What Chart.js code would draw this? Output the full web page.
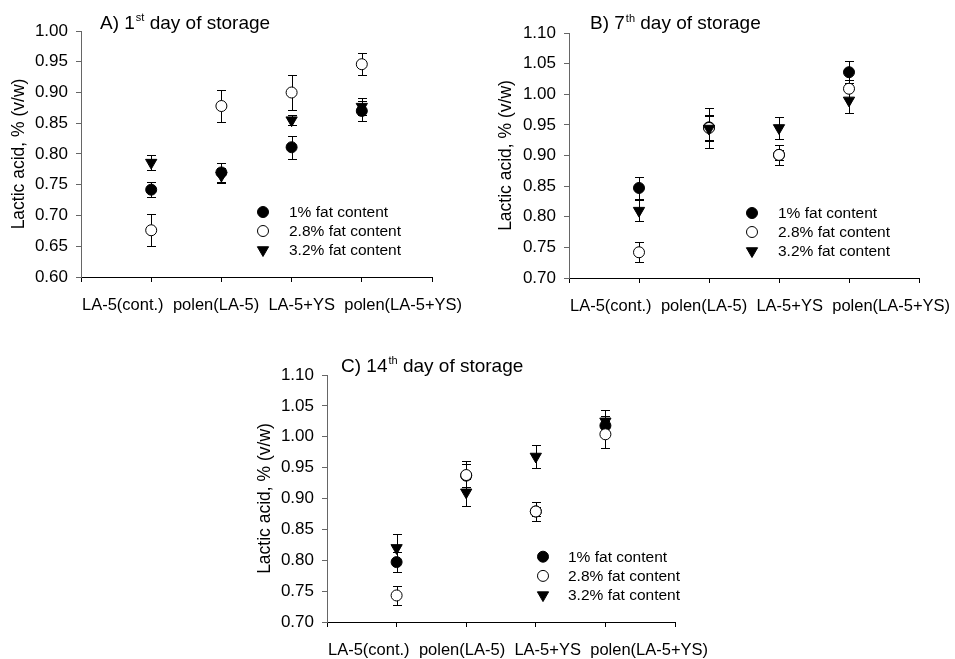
<!DOCTYPE html>
<html>
<head>
<meta charset="utf-8">
<script src="https://cdn.jsdelivr.net/npm/chart.js@4/dist/chart.umd.min.js"></script>
<style>
  body { margin: 0; background: #fff; width: 955px; height: 659px; position: relative; overflow: hidden; }
  canvas { position: absolute; }
</style>
</head>
<body>
<canvas id="chartA" width="470" height="330" style="left:0;top:0"></canvas>
<canvas id="chartB" width="475" height="330" style="left:480px;top:0"></canvas>
<canvas id="chartC" width="480" height="329" style="left:240px;top:330px"></canvas>
<script>
const categories = ["LA-5(cont.)", "polen(LA-5)", "LA-5+YS", "polen(LA-5+YS)"];
const seriesNames = ["1% fat content", "2.8% fat content", "3.2% fat content"];
const yTitle = "Lactic acid, % (v/w)";

// 1st day
const day1Fat1 = [0.742, 0.770, 0.811, 0.870];
const day1Fat1Err = [0.012, 0.016, 0.019, 0.016];
const day1Fat28 = [0.676, 0.878, 0.900, 0.946];
const day1Fat28Err = [0.026, 0.026, 0.029, 0.018];
const day1Fat32 = [0.786, 0.765, 0.855, 0.877];
const day1Fat32Err = [0.012, 0.012, 0.008, 0.014];
const day1Ticks = [0.60, 0.65, 0.70, 0.75, 0.80, 0.85, 0.90, 0.95, 1.00];

// 7th day
const day7Fat1 = [0.847, 0.946, 0.901, 1.036];
const day7Fat1Err = [0.018, 0.020, 0.008, 0.018];
const day7Fat28 = [0.742, 0.945, 0.901, 1.009];
const day7Fat28Err = [0.016, 0.033, 0.016, 0.015];
const day7Fat32 = [0.810, 0.944, 0.945, 0.990];
const day7Fat32Err = [0.017, 0.020, 0.018, 0.021];
const day7Ticks = [0.70, 0.75, 0.80, 0.85, 0.90, 0.95, 1.00, 1.05, 1.10];

// 14th day
const day14Fat1 = [0.797, 0.937, 0.879, 1.018];
const day14Fat1Err = [0.016, 0.019, 0.008, 0.015];
const day14Fat28 = [0.743, 0.938, 0.879, 1.004];
const day14Fat28Err = [0.016, 0.022, 0.016, 0.022];
const day14Fat32 = [0.820, 0.910, 0.968, 1.025];
const day14Fat32Err = [0.022, 0.022, 0.018, 0.018];
const day14Ticks = [0.70, 0.75, 0.80, 0.85, 0.90, 0.95, 1.00, 1.05, 1.10];

const FONT = "'Liberation Sans', Arial, sans-serif";

function drawMarker(ctx, kind, x, y) {
  ctx.save();
  ctx.lineWidth = 1;
  ctx.strokeStyle = "#000";
  ctx.beginPath();
  if (kind === 2) {
    const r = 6.5;
    ctx.moveTo(x - r * 0.866, y - r / 2);
    ctx.lineTo(x + r * 0.866, y - r / 2);
    ctx.lineTo(x, y + r);
    ctx.closePath();
    ctx.fillStyle = "#000";
  } else {
    ctx.arc(x, y, 5.5, 0, Math.PI * 2);
    ctx.fillStyle = kind === 1 ? "#fff" : "#000";
  }
  ctx.fill();
  ctx.stroke();
  ctx.restore();
}

const errorBars = {
  id: "errorBars",
  beforeDatasetsDraw(chart) {
    const { ctx, scales: { x, y } } = chart;
    ctx.save();
    ctx.strokeStyle = "#000";
    ctx.lineWidth = 1;
    chart.data.datasets.forEach(ds => {
      ds.errors.forEach((e, i) => {
        const pt = ds.data[i];
        const px = Math.round(x.getPixelForValue(pt.x)) + 0.5;
        const top = Math.round(y.getPixelForValue(pt.y + e)) + 0.5;
        const bot = Math.round(y.getPixelForValue(pt.y - e)) + 0.5;
        ctx.beginPath();
        ctx.moveTo(px, top); ctx.lineTo(px, bot);
        ctx.moveTo(px - 4.5, top); ctx.lineTo(px + 4.5, top);
        ctx.moveTo(px - 4.5, bot); ctx.lineTo(px + 4.5, bot);
        ctx.stroke();
      });
    });
    ctx.restore();
  }
};

const panelText = {
  id: "panelText",
  afterDraw(chart, args, opts) {
    const ctx = chart.ctx;
    const area = chart.chartArea;
    ctx.save();
    ctx.fillStyle = "#000";
    ctx.textBaseline = "alphabetic";
    // title with superscript
    ctx.font = "19px " + FONT;
    let tx = opts.titleX;
    ctx.fillText(opts.title[0], tx, opts.titleY);
    tx += ctx.measureText(opts.title[0]).width + 1;
    ctx.font = "11px " + FONT;
    ctx.fillText(opts.title[1], tx, opts.titleY - 7.5);
    tx += ctx.measureText(opts.title[1]).width;
    ctx.font = "19px " + FONT;
    ctx.fillText(opts.title[2], tx, opts.titleY);
    // category labels, set in one row under the axis
    ctx.font = "16.5px " + FONT;
    let cx = area.left + 1;
    categories.forEach(c => {
      ctx.fillText(c, cx, area.bottom + 32.5);
      cx += ctx.measureText(c).width + 9.3;
    });
    // legend
    ctx.font = "15.5px " + FONT;
    ctx.textBaseline = "middle";
    seriesNames.forEach((name, i) => {
      const ly = opts.legendY + i * opts.legendDy;
      drawMarker(ctx, i, opts.legendX, ly);
      ctx.fillStyle = "#000";
      ctx.fillText(name, opts.legendTextX, ly + 1);
    });
    ctx.restore();
  }
};

function makePanel(id, fat1, fat1Err, fat28, fat28Err, fat32, fat32Err, yTicks, p) {
  const toPts = arr => arr.map((v, i) => ({ x: i + 1, y: v }));
  new Chart(document.getElementById(id), {
    type: "scatter",
    data: {
      datasets: [
        { label: seriesNames[0], data: toPts(fat1), errors: fat1Err, order: 3,
          pointStyle: "circle", pointRadius: 5.5, pointHoverRadius: 5.5,
          backgroundColor: "#000", borderColor: "#000", borderWidth: 1 },
        { label: seriesNames[1], data: toPts(fat28), errors: fat28Err, order: 2,
          pointStyle: "circle", pointRadius: 5.5, pointHoverRadius: 5.5,
          backgroundColor: "#fff", borderColor: "#000", borderWidth: 1 },
        { label: seriesNames[2], data: toPts(fat32), errors: fat32Err, order: 1,
          pointStyle: "triangle", rotation: 180, pointRadius: 6.5, pointHoverRadius: 6.5,
          backgroundColor: "#000", borderColor: "#000", borderWidth: 1 }
      ]
    },
    options: {
      responsive: false,
      animation: false,
      events: [],
      clip: false,
      layout: { padding: { top: p.top, right: p.right, left: 0, bottom: 0 } },
      plugins: {
        legend: { display: false },
        tooltip: { enabled: false },
        panelText: p.text
      },
      scales: {
        x: {
          type: "linear",
          min: 0, max: 5,
          afterBuildTicks: s => { s.ticks = [0, 1, 2, 3, 4, 5].map(v => ({ value: v })); },
          afterFit: s => { s.height = p.xHeight; },
          border: { display: true, color: "#000", width: 1 },
          grid: { drawOnChartArea: false, drawTicks: true, tickLength: 5, color: "#000" },
          ticks: { autoSkip: false, maxRotation: 0, callback: () => "" }
        },
        y: {
          min: yTicks[0], max: yTicks[yTicks.length - 1],
          afterBuildTicks: s => { s.ticks = yTicks.map(v => ({ value: v })); },
          afterFit: s => { s.width = p.yWidth; },
          border: { display: true, color: "#666", width: 1 },
          grid: { drawOnChartArea: false, drawTicks: true, tickLength: 5, color: "#666" },
          ticks: {
            padding: 8, color: "#000",
            font: { family: FONT, size: 17 },
            callback: v => v.toFixed(2)
          },
          title: {
            display: true, text: yTitle, color: "#000",
            font: { family: FONT, size: 17.5 },
            padding: { top: p.yTitlePad, bottom: 0 }
          }
        }
      }
    },
    plugins: [errorBars, panelText]
  });
}

makePanel("chartA", day1Fat1, day1Fat1Err, day1Fat28, day1Fat28Err, day1Fat32, day1Fat32Err, day1Ticks,
  { top: 31, right: 38, xHeight: 53, yWidth: 81, yTitlePad: 9,
    text: { title: ["A) 1", "st", " day of storage"], titleX: 100, titleY: 28.5,
            legendX: 263, legendTextX: 289, legendY: 212, legendDy: 19 } });

makePanel("chartB", day7Fat1, day7Fat1Err, day7Fat28, day7Fat28Err, day7Fat32, day7Fat32Err, day7Ticks,
  { top: 33, right: 36, xHeight: 52, yWidth: 89, yTitlePad: 16,
    text: { title: ["B) 7", "th", " day of storage"], titleX: 110, titleY: 29.3,
            legendX: 272, legendTextX: 298, legendY: 213, legendDy: 19 } });

makePanel("chartC", day14Fat1, day14Fat1Err, day14Fat28, day14Fat28Err, day14Fat32, day14Fat32Err, day14Ticks,
  { top: 45, right: 45, xHeight: 37, yWidth: 87, yTitlePad: 15,
    text: { title: ["C) 14", "th", " day of storage"], titleX: 101, titleY: 41.7,
            legendX: 303, legendTextX: 328, legendY: 226.7, legendDy: 19.2 } });
</script>
</body>
</html>
